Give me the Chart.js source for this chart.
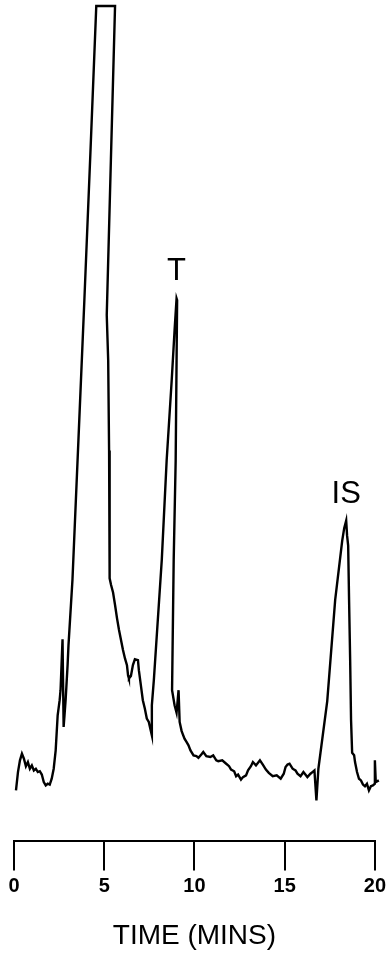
<!DOCTYPE html>
<html>
<head>
<meta charset="utf-8">
<script src="https://cdn.jsdelivr.net/npm/chart.js@4"></script>
<style>
  html, body { margin: 0; padding: 0; background: #fff; }
  .chart-container { position: relative; width: 390px; height: 959px; }
</style>
</head>
<body>
<div class="chart-container"><canvas id="chrom"></canvas></div>
<script>
// 시간 (분)
const times = [
  0.11, 0.22, 0.33, 0.44, 0.55, 0.66, 0.77, 0.88, 0.99, 1.10, 1.21, 1.32, 1.43, 1.54, 1.65, 1.76, 1.87, 1.98,
  2.09, 2.20, 2.31, 2.42, 2.53, 2.58, 2.69, 2.75, 2.80, 2.86, 2.97, 3.02, 3.24, 3.57, 3.90, 4.23, 4.56,
  5.60, 5.37, 5.14, 5.22, 5.27, 5.30, 5.38, 5.49, 5.60, 5.71, 5.82, 5.93, 6.04, 6.15, 6.26, 6.32, 6.37,
  6.48, 6.59, 6.70, 6.87, 6.92, 7.03, 7.14, 7.25, 7.36, 7.47, 7.64, 7.64, 7.75, 7.97, 8.19, 8.46, 8.74,
  8.90, 9.01, 9.04, 8.96, 8.85, 8.76, 8.90, 9.01, 9.12, 9.18, 9.29, 9.45, 9.56, 9.67, 9.78, 9.95, 10.11,
  10.22, 10.38, 10.49, 10.66, 10.88, 11.04, 11.21, 11.32, 11.54, 11.76, 11.92, 12.03, 12.20, 12.31, 12.42,
  12.58, 12.69, 12.86, 12.97, 13.13, 13.24, 13.41, 13.63, 13.79, 13.96, 14.12, 14.34, 14.56, 14.78, 14.95,
  15.05, 15.16, 15.27, 15.44, 15.60, 15.71, 15.88, 16.04, 16.26, 16.43, 16.54, 16.65, 16.76, 16.87, 17.36,
  17.80, 18.19, 18.30, 18.41, 18.46, 18.52, 18.57, 18.63, 18.68, 18.74, 18.85, 18.90, 19.01, 19.12, 19.23,
  19.34, 19.45, 19.56, 19.67, 19.78, 19.89, 20.00, 20.00, 20.05, 20.22
];
// 검출기 응답 (임의 단위, 100 = 스케일 초과)
const response = [
  6.1, 8.3, 9.7, 10.5, 9.9, 9.0, 9.5, 8.7, 9.1, 8.5, 8.7, 8.3, 8.4, 8.0, 7.1, 6.7, 6.9, 6.8,
  7.5, 8.7, 10.9, 15.1, 16.9, 18.1, 24.2, 13.7, 15.1, 16.9, 21.1, 23.5, 31.3, 48.0, 64.8, 82.2, 100,
  100, 81.6, 63.0, 57.6, 46.8, 31.5, 30.7, 29.8, 28.3, 26.7, 25.3, 24.1, 22.9, 21.9, 21.1, 19.9, 19.5,
  19.8, 21.1, 21.8, 21.7, 20.5, 18.7, 16.9, 15.9, 14.7, 14.3, 12.7, 16.3, 19.3, 26.5, 33.7, 45.6, 55.2,
  61.2, 65.0, 64.8, 45.6, 33.7, 18.1, 16.3, 15.4, 18.1, 14.3, 13.2, 12.3, 11.9, 11.5, 10.9, 10.3, 10.2,
  10.0, 10.4, 10.7, 10.2, 10.1, 10.3, 9.7, 9.6, 9.7, 9.3, 9.0, 8.6, 8.4, 7.8, 8.0,
  7.4, 7.7, 7.9, 8.5, 9.0, 9.5, 9.1, 9.7, 9.2, 8.6, 8.2, 7.8, 7.9, 7.5, 8.1,
  8.9, 9.2, 9.3, 8.7, 8.5, 8.1, 7.8, 8.3, 7.7, 8.1, 8.3, 8.5, 4.9, 8.7, 16.8,
  28.9, 36.0, 37.5, 38.4, 36.6, 35.4, 28.9, 21.7, 14.5, 10.6, 10.3, 9.5, 8.3, 7.5, 7.3,
  6.8, 6.6, 6.9, 6.1, 6.6, 6.7, 6.9, 9.7, 7.1, 7.3
];
// 피크 라벨
const peakNames = ['T', 'IS'];
const peakTimes = [9.01, 18.41];
const peakHeights = [65.0, 38.4];
// 눈금
const tickValues = [0, 5, 10, 15, 20];

const fontFamily = "'Liberation Sans', Arial, Helvetica, sans-serif";
Chart.defaults.font.family = fontFamily;
Chart.defaults.color = '#000';

const points = times.map((t, i) => ({ x: t, y: response[i] }));

// 피크 이름 표시 플러그인
const peakLabelPlugin = {
  id: 'peakLabels',
  afterDatasetsDraw(chart) {
    const { ctx, scales } = chart;
    ctx.save();
    ctx.fillStyle = '#000';
    ctx.font = '31px ' + fontFamily;
    ctx.textAlign = 'center';
    ctx.textBaseline = 'alphabetic';
    peakNames.forEach((name, i) => {
      const px = scales.x.getPixelForValue(peakTimes[i]);
      const py = scales.y.getPixelForValue(peakHeights[i]);
      ctx.fillText(name, px, py - 18);
    });
    ctx.restore();
  }
};

new Chart(document.getElementById('chrom').getContext('2d'), {
  type: 'line',
  data: {
    datasets: [{
      data: points,
      borderColor: '#000',
      borderWidth: 2.4,
      pointRadius: 0,
      tension: 0,
      fill: false,
      clip: false
    }]
  },
  options: {
    responsive: true,
    maintainAspectRatio: false,
    animation: false,
    events: [],
    layout: { padding: { left: 14, right: 12, top: 6, bottom: 6 } },
    plugins: { legend: { display: false }, tooltip: { enabled: false } },
    scales: {
      x: {
        type: 'linear',
        min: 0,
        max: 20,
        afterBuildTicks: (axis) => { axis.ticks = tickValues.map(v => ({ value: v })); },
        ticks: {
          font: { size: 20, weight: 'bold' },
          color: '#000',
          padding: 4,
          maxRotation: 0
        },
        grid: {
          display: true,
          drawOnChartArea: false,
          drawTicks: true,
          tickLength: 29,
          color: '#000',
          lineWidth: 2
        },
        border: { display: true, color: '#000', width: 2 },
        title: {
          display: true,
          text: 'TIME (MINS)',
          font: { size: 28 },
          color: '#000',
          padding: { top: 17, bottom: 0 }
        }
      },
      y: {
        display: false,
        min: 0,
        max: 100
      }
    }
  },
  plugins: [peakLabelPlugin]
});
</script>
</body>
</html>
